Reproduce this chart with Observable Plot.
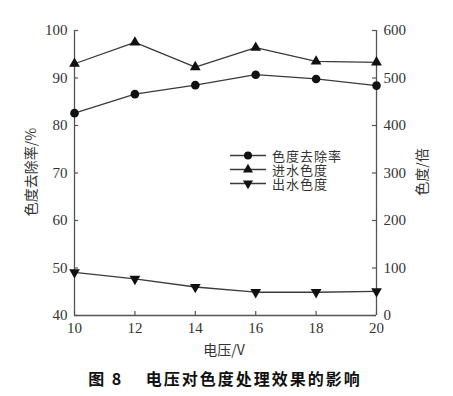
<!DOCTYPE html>
<html><head><meta charset="utf-8">
<script src="https://cdn.jsdelivr.net/npm/d3@7"></script>
<script src="https://cdn.jsdelivr.net/npm/@observablehq/plot@0.6"></script>
<style>
body{margin:0;background:#fff;}
#wrap{position:relative;width:453px;height:396px;background:#fff;}
.cjk{font-family:"Noto Sans CJK SC",sans-serif;color:#333;position:absolute;white-space:nowrap;}
.lg span{display:inline-block;height:13px;line-height:13px;vertical-align:top;margin-left:6px;letter-spacing:1px;}
.lg svg{display:inline-block;vertical-align:top;}
</style></head>
<body><div id="wrap"></div>
<script>
// data
const voltage = [10, 12, 14, 16, 18, 20];
const removalRate = [82.6, 86.6, 88.5, 90.7, 89.8, 88.4];   // 色度去除率 (%), left axis
const influentColor = [530, 575, 523, 564, 535, 533];       // 进水色度 (倍), right axis
const effluentColor = [91, 77, 60, 49, 49, 51];             // 出水色度 (倍), right axis
const xTicks = [10, 12, 14, 16, 18, 20];
const leftTicks = [40, 50, 60, 70, 80, 90, 100];
const rightTicks = [0, 100, 200, 300, 400, 500, 600];
const seriesNames = ["色度去除率", "进水色度", "出水色度"];

// right axis maps 0..600 onto left 40..100
const toLeft = v => 40 + v / 10;
const fromLeft = v => (v - 40) * 10;

const rows = voltage.map((v, i) => ({v, removal: removalRate[i], inf: toLeft(influentColor[i]), eff: toLeft(effluentColor[i])}));

const triDown = {
  draw(context, size) {
    const y = Math.sqrt(size / (Math.sqrt(3) * 3));
    context.moveTo(0, y * 2);
    context.lineTo(-Math.sqrt(3) * y, -y);
    context.lineTo(Math.sqrt(3) * y, -y);
    context.closePath();
  }
};

const lineColor = "#3a3a3a";
const axisColor = "#555";
const xMin = 10, xMax = 20, yMin = 40;

const chart = Plot.plot({
  width: 453, height: 360,
  marginLeft: 74, marginRight: 77, marginTop: 30, marginBottom: 45,
  x: {domain: [xMin, xMax]},
  y: {domain: [40, 100]},
  style: {fontFamily: "'Liberation Serif', serif", fontSize: "15px", color: "#333", background: "#fff"},
  marks: [
    Plot.ruleX([xMin, xMax], {stroke: axisColor, strokeWidth: 1.3}),
    Plot.ruleY([yMin], {stroke: axisColor, strokeWidth: 1.3}),
    // inward tick marks
    Plot.ruleX(xTicks, {x: d => d, y1: yMin, y2: yMin, insetTop: -4, stroke: axisColor, strokeWidth: 1.2}),
    Plot.ruleY(leftTicks, {y: d => d, x1: xMin, x2: xMin, insetRight: -4, stroke: axisColor, strokeWidth: 1.2}),
    Plot.ruleY(rightTicks.map(toLeft), {y: d => d, x1: xMax, x2: xMax, insetLeft: -4, stroke: axisColor, strokeWidth: 1.2}),
    Plot.axisX({ticks: xTicks, tickSize: 0, tickPadding: 7, label: null}),
    Plot.axisY({ticks: leftTicks, anchor: "left", tickSize: 0, tickPadding: 7, label: null}),
    Plot.axisY({ticks: rightTicks.map(toLeft), anchor: "right", tickSize: 0, tickPadding: 7, label: null, tickFormat: d => fromLeft(d)}),
    Plot.line(rows, {x: "v", y: "removal", stroke: lineColor, strokeWidth: 1.3}),
    Plot.line(rows, {x: "v", y: "inf", stroke: lineColor, strokeWidth: 1.3}),
    Plot.line(rows, {x: "v", y: "eff", stroke: lineColor, strokeWidth: 1.3}),
    Plot.dot(rows, {x: "v", y: "removal", symbol: "circle", r: 4.3, fill: "#111", stroke: "none"}),
    Plot.dot(rows, {x: "v", y: "inf", symbol: "triangle", r: 4, fill: "#111", stroke: "none"}),
    Plot.dot(rows, {x: "v", y: "eff", symbol: triDown, r: 4, fill: "#111", stroke: "none"})
  ]
});
const wrap = document.getElementById("wrap");
wrap.appendChild(chart);

function add(html, css, cls) {
  const d = document.createElement("div");
  d.className = "cjk" + (cls ? " " + cls : "");
  d.innerHTML = html;
  Object.assign(d.style, css);
  wrap.appendChild(d);
  return d;
}
// axis titles
add("色度去除率/%", {left: "30px", top: "172px", fontSize: "14px", transform: "translate(-50%,-50%) rotate(-90deg)"});
add("色度/倍", {left: "421px", top: "172px", fontSize: "14px", transform: "translate(-50%,-50%) rotate(-90deg)"});
add("电压/V", {left: "224px", top: "349px", fontSize: "14px", transform: "translate(-50%,-50%)"});
// caption
add("图 8&nbsp;&nbsp;&nbsp;&nbsp;电压对色度处理效果的影响", {left: "225px", top: "378px", fontSize: "16px", fontWeight: "bold", color: "#111", letterSpacing: "2px", transform: "translate(-50%,-50%)"});

// legend
const symbols = [
  '<circle cx="18" cy="6.5" r="4" fill="#111"/>',
  '<path d="' + d3.symbol(d3.symbolTriangle, Math.PI * 14).call() + '" transform="translate(18,6.5)" fill="#111"/>',
  '<path d="' + d3.symbol(triDown, Math.PI * 14).call() + '" transform="translate(18,6.5)" fill="#111"/>'
];
seriesNames.forEach((name, i) => {
  add('<svg width="36" height="13"><line x1="0" x2="36" y1="6.5" y2="6.5" stroke="' + lineColor + '" stroke-width="1.3"/>' + symbols[i] + '</svg><span>' + name + '</span>',
    {left: "230px", top: (148.5 + i * 14) + "px", fontSize: "13px", lineHeight: "13px", height: "13px"}, "lg");
});
</script>
</body></html>
